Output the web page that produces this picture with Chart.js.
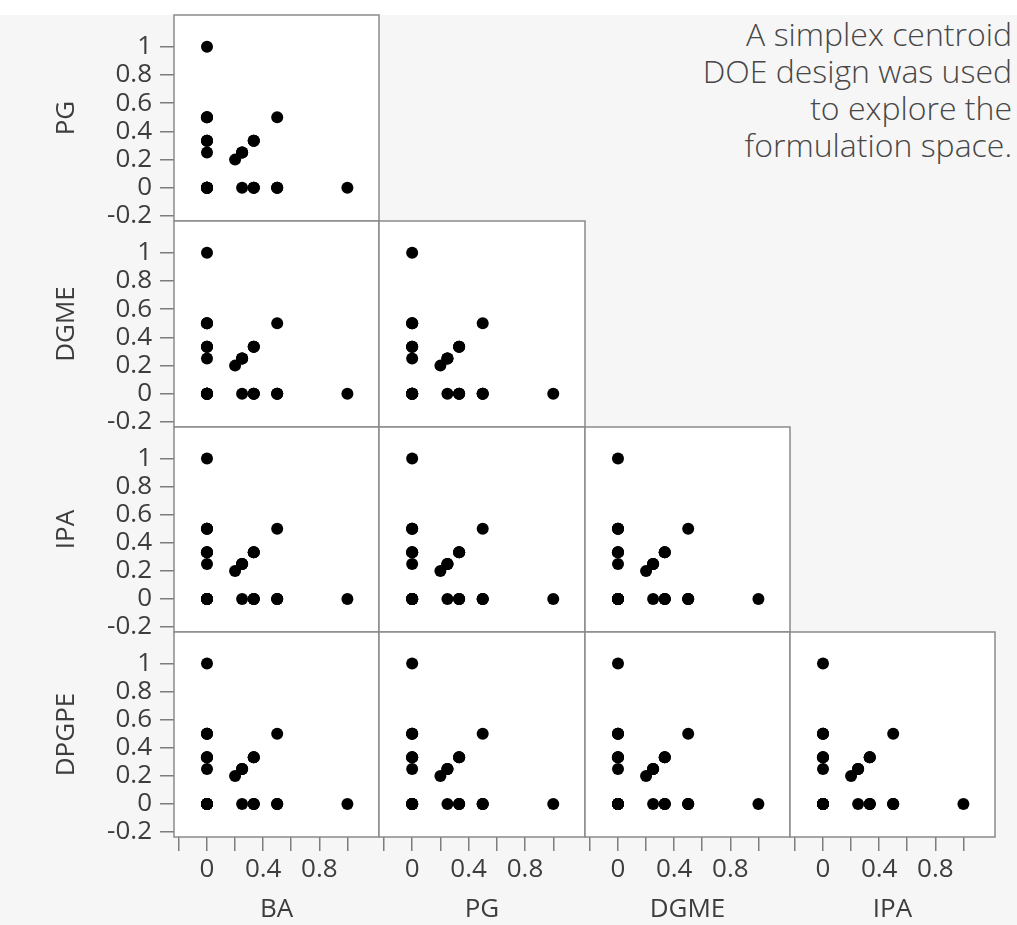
<!DOCTYPE html>
<html><head><meta charset="utf-8">
<script src="https://cdn.jsdelivr.net/npm/chart.js@4.4.1/dist/chart.umd.min.js"></script>
<style>
html,body{margin:0;padding:0;}
body{width:1017px;height:925px;background:#f6f6f6;position:relative;overflow:hidden;font-family:"Open Sans",sans-serif;}
#topstrip{position:absolute;left:0;top:0;width:1017px;height:15px;background:#ffffff;}
canvas{position:absolute;}
#note{position:absolute;right:5px;top:15px;text-align:right;font-family:"Open Sans",sans-serif;font-weight:300;font-size:32px;line-height:37px;color:#474747;white-space:nowrap;}
</style></head><body>
<div id="topstrip"></div>
<div id="note">A simplex centroid<br>DOE design was used<br>to explore the<br>formulation space.</div>
<script>
// Simplex centroid design, 5 components (31 runs)
const BA    = [1,0,0,0,0, 0.5,0.5,0.5,0.5,0,0,0,0,0,0, 0.333,0.333,0.333,0.333,0.333,0.333,0,0,0,0, 0,0.25,0.25,0.25,0.25, 0.2];
const PG    = [0,1,0,0,0, 0.5,0,0,0,0.5,0.5,0.5,0,0,0, 0.333,0.333,0.333,0,0,0,0.333,0.333,0.333,0, 0.25,0,0.25,0.25,0.25, 0.2];
const DGME  = [0,0,1,0,0, 0,0.5,0,0,0.5,0,0,0.5,0.5,0, 0.333,0,0,0.333,0.333,0,0.333,0.333,0,0.333, 0.25,0.25,0,0.25,0.25, 0.2];
const IPA   = [0,0,0,1,0, 0,0,0.5,0,0,0.5,0,0.5,0,0.5, 0,0.333,0,0.333,0,0.333,0.333,0,0.333,0.333, 0.25,0.25,0.25,0,0.25, 0.2];
const DPGPE = [0,0,0,0,1, 0,0,0,0.5,0,0,0.5,0,0.5,0.5, 0,0,0.333,0,0.333,0.333,0,0.333,0.333,0.333, 0.25,0.25,0.25,0.25,0, 0.2];

const columnVars = ['BA','PG','DGME','IPA'];
const rowVars = ['PG','DGME','IPA','DPGPE'];
const tickValues = [-0.2,0,0.2,0.4,0.6,0.8,1];
const xTickLabels = ['','0','','0.4','','0.8',''];
const yTickLabels = ['-0.2','0','0.2','0.4','0.6','0.8','1'];
const axisMin = -0.235, axisMax = 1.225;

const series = {BA, PG, DGME, IPA, DPGPE};

// layout
const colEdges = [174,379,585,790,995];
const rowEdges = [15,221,427,632,837];
const EXT = 30;
const BOTTOM = 930;
const textColor = '#3d3d3d';
const tickColor = '#7d7d7d';
const fontFamily = '"Open Sans", "Noto Sans", sans-serif';

const panelPlugin = {
  id: 'panel',
  beforeDraw(chart){
    const a = chart.chartArea, ctx = chart.ctx;
    ctx.save(); ctx.fillStyle = '#ffffff';
    ctx.fillRect(a.left, a.top, a.right - a.left, a.bottom - a.top);
    ctx.restore();
  },
  afterDraw(chart){
    const a = chart.chartArea, ctx = chart.ctx;
    ctx.save(); ctx.strokeStyle = '#8a8a8a'; ctx.lineWidth = 1.5;
    ctx.strokeRect(a.left, a.top, a.right - a.left, a.bottom - a.top);
    ctx.restore();
  }
};

for (let r = 0; r < 4; r++) {
  for (let c = 0; c <= r; c++) {
    const xs = series[columnVars[c]], ys = series[rowVars[r]];
    const showX = r === 3, showY = c === 0;
    const left = showY ? 0 : colEdges[c] - EXT;
    const right = colEdges[c+1] + EXT;
    const top = rowEdges[r] - EXT;
    const bottom = showX ? BOTTOM : rowEdges[r+1] + EXT;
    const cv = document.createElement('canvas');
    cv.width = right - left; cv.height = bottom - top;
    cv.style.left = left + 'px'; cv.style.top = top + 'px';
    cv.style.width = (right-left) + 'px'; cv.style.height = (bottom-top) + 'px';
    document.body.appendChild(cv);
    new Chart(cv, {
      type: 'scatter',
      data: { datasets: [{
        data: xs.map((v,i) => ({x: v, y: ys[i]})),
        backgroundColor: '#000000', borderWidth: 0, pointRadius: 6, pointHoverRadius: 6
      }]},
      options: {
        responsive: false, animation: false, events: [],
        devicePixelRatio: 1,
        layout: { padding: { left: showY ? 0 : EXT, right: EXT, top: EXT, bottom: showX ? 0 : EXT } },
        plugins: { legend: {display: false}, tooltip: {enabled: false} },
        scales: {
          x: {
            type: 'linear', min: axisMin, max: axisMax, display: showX,
            afterBuildTicks: s => { s.ticks = tickValues.map(v => ({value: v})); },
            afterFit: s => { if (showX) s.height = BOTTOM - rowEdges[4]; },
            border: {display: false},
            grid: {drawOnChartArea: false, drawTicks: true, tickLength: 14, color: tickColor, lineWidth: 1.5},
            ticks: {autoSkip: false, maxRotation: 0, minRotation: 0, padding: 3, color: textColor,
                    font: {family: fontFamily, size: 26}, callback: (v, i) => xTickLabels[i]},
            title: {display: true, text: columnVars[c], color: textColor,
                    font: {family: fontFamily, size: 26}, padding: {top: 0, bottom: 5}}
          },
          y: {
            type: 'linear', min: axisMin, max: axisMax, display: showY,
            afterBuildTicks: s => { s.ticks = tickValues.map(v => ({value: v})); },
            afterFit: s => { if (showY) s.width = colEdges[0]; },
            border: {display: false},
            grid: {drawOnChartArea: false, drawTicks: true, tickLength: 14, color: tickColor, lineWidth: 1.5},
            ticks: {autoSkip: false, padding: 8, color: textColor,
                    font: {family: fontFamily, size: 26}, callback: (v, i) => yTickLabels[i]},
            title: {display: true, text: rowVars[r], color: textColor,
                    font: {family: fontFamily, size: 26}, padding: {top: 51, bottom: 0}}
          }
        }
      },
      plugins: [panelPlugin]
    });
  }
}
</script>
</body></html>
